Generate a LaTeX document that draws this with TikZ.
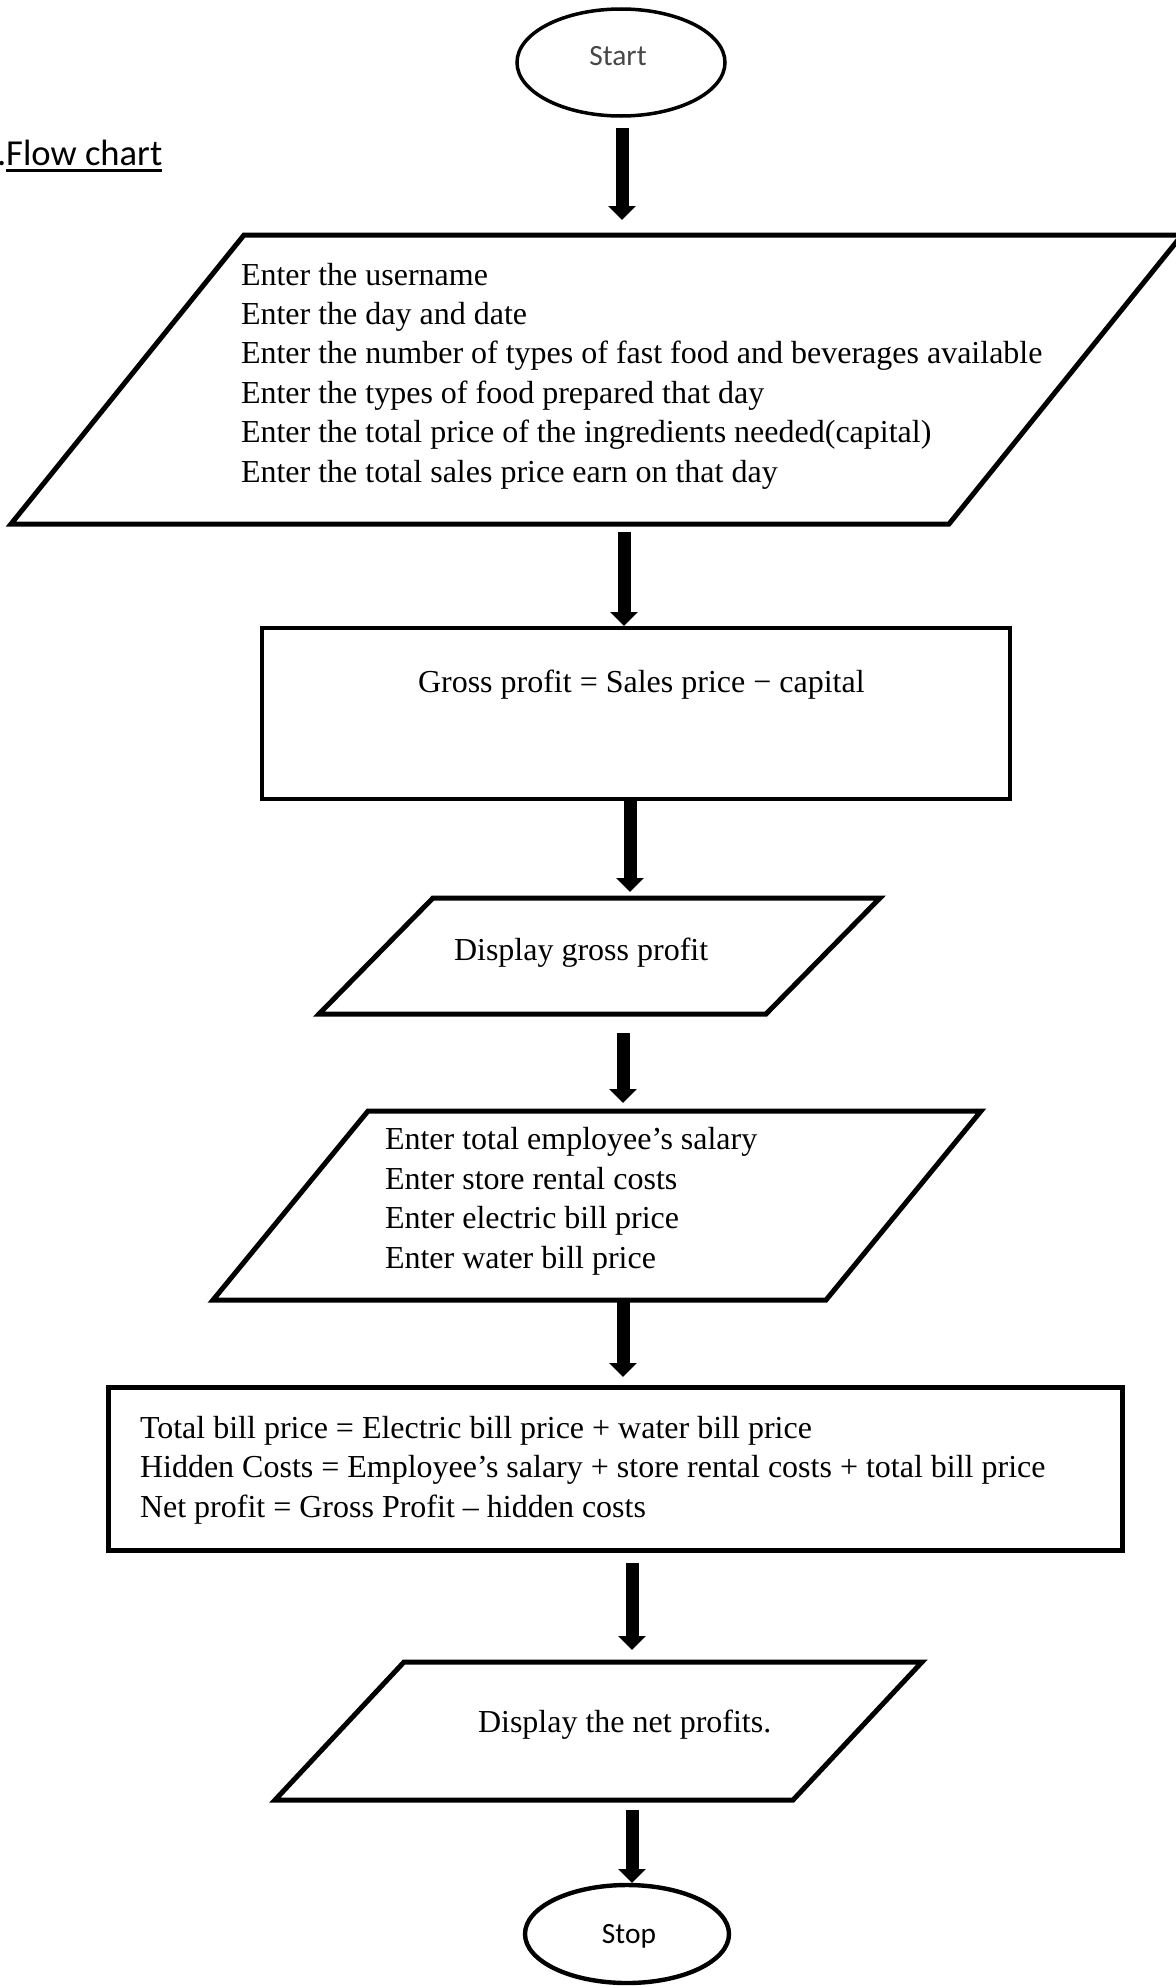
\documentclass[tikz,border=0pt]{standalone}
\usepackage{fontspec}
\setmainfont{Liberation Serif}
\newfontfamily\calibri{Carlito}
\usetikzlibrary{arrows.meta,shapes.geometric}

% underline drawn a little below the baseline
\newcommand\ulinetext[1]{\setbox0\hbox{#1}\rlap{\rule[-3.4pt]{\wd0}{1.3pt}}\box0}
% slanted input/output box drawn from the corners of a frame node
\newcommand\parashape[2]{\draw[outline] ([xshift=#2]#1.north west) -- (#1.north east) -- ([xshift=-#2]#1.south east) -- (#1.south west) -- cycle;}

\tikzset{
  outline/.style={draw=black, line width=2.5pt, line join=miter},
  frame/.style={draw=none, rectangle, inner sep=0pt, outer sep=0pt},
  procbox/.style={draw=black, rectangle, line width=2.2pt, inner sep=0pt, outer sep=0pt},
  terminal/.style={draw=black, ellipse, inner sep=0pt, outer sep=0pt},
  flow/.style={line width=6.5pt, -{Triangle[width=13.5pt,length=7pt]}},
  % multi-line text nodes: the base anchor sits on the last line
  txt/.style={inner sep=0pt, outer sep=0pt, anchor=base west, align=left,
              font=\fontsize{16}{19.7}\selectfont},
  sans/.style={inner sep=0pt, outer sep=0pt, font=\calibri\fontsize{14.7}{17}\selectfont},
}

\begin{document}
\begin{tikzpicture}[x=0.5pt, y=-0.5pt]
\useasboundingbox (0,0) rectangle (1176,1986);

% title
\node[sans, anchor=base west, font=\calibri\fontsize{18.3}{22}\selectfont] (title) at (-3,165) {.\ulinetext{Flow chart}};

% start
\node[terminal, line width=1.75pt, minimum width=104pt, minimum height=53.5pt] (start) at (621,62.5) {};
\node[sans, anchor=base, text=black!72] (startt) at (618,65) {Start};

% first input block
\node[frame, minimum width=585.5pt, minimum height=144.5pt] (in1) at (596.5,379.5) {};
\parashape{in1}{116.5pt}
\node[txt] (in1t) at (241,482) {Enter the username\\
Enter the day and date\\
Enter the number of types of fast food and beverages available\\
Enter the types of food prepared that day\\
Enter the total price of the ingredients needed(capital)\\
Enter the total sales price earn on that day};

% gross profit
\node[procbox, minimum width=374pt, minimum height=85.5pt] (gross) at (636,713.5) {};
\node[txt] (grosst) at (418,692) {Gross profit = Sales price − capital};

% display gross profit
\node[frame, minimum width=280.5pt, minimum height=58pt] (out1) at (599.5,956) {};
\parashape{out1}{57pt}
\node[txt] (out1t) at (454,960) {Display gross profit};

% second input block
\node[frame, minimum width=384pt, minimum height=94.5pt] (in2) at (597,1205.5) {};
\parashape{in2}{77.5pt}
\node[txt] (in2t) at (385,1268) {Enter total employee’s salary\\
Enter store rental costs\\
Enter electric bill price\\
Enter water bill price};

% net profit calculation
\node[procbox, line width=2.5pt, minimum width=507pt, minimum height=81.5pt] (net) at (615,1468.5) {};
\node[txt] (nett) at (140,1517) {Total bill price = Electric bill price + water bill price\\
Hidden Costs = Employee’s salary + store rental costs + total bill price\\
Net profit = Gross Profit – hidden costs};

% display net profit
\node[frame, minimum width=323.5pt, minimum height=69pt] (out2) at (598.5,1731) {};
\parashape{out2}{64.5pt}
\node[txt] (out2t) at (478,1732) {Display the net profits.};

% stop
\node[terminal, line width=2.2pt, minimum width=102pt, minimum height=49pt] (stop) at (627,1934) {};
\node[sans, anchor=base] (stopt) at (629,1943) {Stop};

% arrow columns
\coordinate (ax1) at (622,0);
\coordinate (ax2) at (624,0);
\coordinate (ax3) at (630,0);
\coordinate (ax4) at (623,0);
\coordinate (ax5) at (623,0);
\coordinate (ax6) at (632,0);
\coordinate (ax7) at (632,0);

% connectors
\draw[flow, shorten <=6pt, shorten >=7.5pt] (start.south -| ax1) -- (in1.north -| ax1);
\draw[flow, shorten <=4pt, shorten >=1pt] (in1.south -| ax2) -- (gross.north -| ax2);
\draw[flow, shorten <=1pt, shorten >=3pt] (gross.south -| ax3) -- (out1.north -| ax3);
\draw[flow, shorten <=9.5pt, shorten >=4pt] (out1.south -| ax4) -- (in2.north -| ax4);
\draw[flow, shorten <=1pt, shorten >=5pt] (in2.south -| ax5) -- (net.north -| ax5);
\draw[flow, shorten <=6.5pt, shorten >=6pt] (net.south -| ax6) -- (out2.north -| ax6);
\draw[flow, shorten <=5pt, shorten >=1pt] (out2.south -| ax7) -- (stop.north -| ax7);
\end{tikzpicture}
\end{document}
